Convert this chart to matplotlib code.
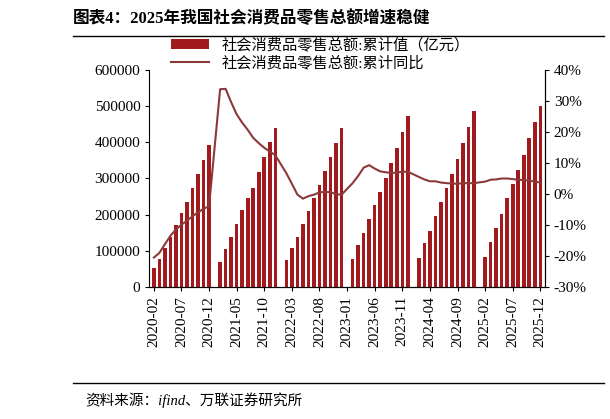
import matplotlib
matplotlib.use("Agg")
import matplotlib.pyplot as plt
import numpy as np

plt.rcParams['font.family'] = ['Liberation Serif', 'Noto Sans CJK SC', 'DejaVu Sans']

months = [f"{y}-{m:02d}" for y in range(2020, 2026) for m in range(1, 13)][1:]
sales = {
 2020: [52130, 78580, 106758, 138854, 172256, 204459, 235941, 273324, 311086, 350383, 391981],
 2021: [69737, 105221, 138383, 174128, 211904, 246226, 274178, 318057, 358885, 399525, 440823],
 2022: [74426, 108659, 138535, 173909, 210432, 246051, 282040, 319916, 360575, 399190, 439733],
 2023: [77067, 114922, 149483, 187636, 227588, 263760, 301886, 342107, 385101, 427945, 471495],
 2024: [81307, 120327, 156026, 195211, 235969, 273688, 311346, 352564, 397958, 442723, 487895],
 2025: [83731, 124671, 161845, 203171, 245458, 284238, 323906, 365877, 412169, 456067, 501202],
}
growth = {
 2020: [-20.5, -19.0, -16.2, -13.5, -11.4, -9.9, -8.6, -7.2, -5.9, -4.8, -3.9],
 2021: [33.8, 33.9, 29.6, 25.7, 23.0, 20.7, 18.1, 16.4, 14.9, 13.7, 12.5],
 2022: [6.7, 3.3, -0.2, -1.5, -0.7, -0.2, 0.5, 0.7, 0.6, -0.1, -0.2],
 2023: [3.5, 5.8, 8.5, 9.3, 8.2, 7.3, 7.0, 6.8, 6.9, 7.2, 7.2],
 2024: [5.5, 4.7, 4.1, 4.1, 3.7, 3.5, 3.4, 3.3, 3.5, 3.5, 3.5],
 2025: [4.0, 4.6, 4.7, 5.0, 5.0, 4.8, 4.6, 4.5, 4.3, 4.0, 3.7],
}

bar_vals, line_x, line_vals, bar_x = [], [], [], []
for i, lab in enumerate(months):
    y, m = int(lab[:4]), int(lab[5:])
    if m == 1:
        continue
    bar_x.append(i); bar_vals.append(sales[y][m - 2])
    line_x.append(i); line_vals.append(growth[y][m - 2])

fig = plt.figure(figsize=(6.10, 4.19), dpi=100)
ax = fig.add_axes([0.245, 0.315, 0.648, 0.518])
ax2 = ax.twinx()
bc = '#A31A1E'; lc = '#8B3A3A'
b = ax.bar(bar_x, bar_vals, width=0.65, color=bc, label='社会消费品零售总额:累计值（亿元）')
l, = ax2.plot(line_x, line_vals, color=lc, lw=1.5, label='社会消费品零售总额:累计同比')
ax.set_xlim(-0.8, len(months) - 0.2)
ax.set_ylim(0, 600000)
ax.set_yticks(range(0, 600001, 100000))
ax2.set_ylim(-30, 40)
ax2.set_yticks(range(-30, 41, 10))
ax2.set_yticklabels([f"{v}%" for v in range(-30, 41, 10)])
ax.set_xticks(range(0, len(months), 5))
ax.set_xticklabels(months[::5], rotation=90)
for a in (ax, ax2):
    a.tick_params(labelsize=11, length=3, direction='out')
    a.spines['top'].set_visible(False)
ax2.spines['left'].set_visible(False)
fig.legend(handles=[b, l], loc='upper left', bbox_to_anchor=(0.27, 0.925), frameon=False,
           fontsize=11, handlelength=2.5, labelspacing=0.2, borderaxespad=0)

fig.text(0.12, 0.955, '图表4：2025年我国社会消费品零售总额增速稳健', fontsize=12, va='center', weight='bold')
fig.add_artist(plt.Line2D([0.12, 0.99], [0.915, 0.915], color='k', lw=1))
fig.add_artist(plt.Line2D([0.12, 0.99], [0.085, 0.085], color='k', lw=1))
fig.text(0.14, 0.045, '资料来源：ifind、万联证券研究所', fontsize=10.5, style='italic', va='center')
fig.savefig('out.png', dpi=100)
